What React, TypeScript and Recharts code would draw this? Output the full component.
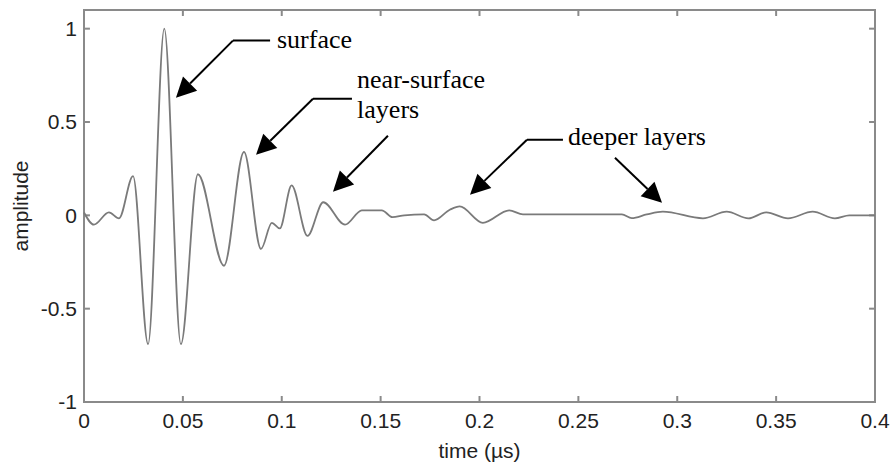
import React from 'react';
import { LineChart, Line, XAxis, YAxis, ReferenceLine, ReferenceDot, ReferenceArea } from 'recharts';

// echo trace: time (µs) vs normalised amplitude
const times = [
  0, 0.005, 0.0126, 0.0177, 0.0248, 0.0324, 0.0406, 0.049, 0.0576, 0.0708,
  0.0809, 0.0895, 0.095, 0.099, 0.105, 0.113, 0.121, 0.132, 0.1405, 0.1506,
  0.156, 0.162, 0.172, 0.177, 0.185, 0.19, 0.2017, 0.215, 0.222, 0.272,
  0.277, 0.2846, 0.2927, 0.313, 0.325, 0.336, 0.345, 0.356, 0.3685, 0.3797,
  0.387, 0.4,
];
const amplitudes = [
  0.015, -0.05, 0.016, -0.016, 0.21, -0.69, 1.0, -0.69, 0.22, -0.27,
  0.34, -0.18, -0.04, -0.07, 0.16, -0.11, 0.07, -0.05, 0.027, 0.027,
  -0.01, 0, 0.005, -0.027, 0.03, 0.048, -0.04, 0.027, 0.005, 0.005,
  -0.015, 0.005, 0.02, -0.016, 0.02, -0.016, 0.016, -0.016, 0.02, -0.016,
  0, 0,
];

const xTicks = [0, 0.05, 0.1, 0.15, 0.2, 0.25, 0.3, 0.35, 0.4];
const yTicks = [-1, -0.5, 0, 0.5, 1];
const xDomain: [number, number] = [0, 0.4];
const yDomain: [number, number] = [-1, 1.1];

// annotation arrows, in data units; the last point is the arrow tip
const arrowPaths: [number, number][][] = [
  [[0.0941, 0.936], [0.0753, 0.936], [0.0465, 0.63]],
  [[0.1355, 0.625], [0.1158, 0.625], [0.087, 0.324]],
  [[0.1537, 0.426], [0.1259, 0.126]],
  [[0.2422, 0.405], [0.224, 0.405], [0.1952, 0.11]],
  [[0.2685, 0.308], [0.2923, 0.067]],
];

const notes = [
  { t: 0.0976, a: 0.898, lines: ['surface'] },
  { t: 0.1381, a: 0.684, lines: ['near-surface', 'layers'] },
  { t: 0.2448, a: 0.378, lines: ['deeper layers'] },
];

const data = times.map((t, i) => ({ t, amp: amplitudes[i] }));

const frame = '#8a8a8a';
const sans = '"Liberation Sans", Arial, sans-serif';
const serif = '"Liberation Serif", "Times New Roman", serif';

// inward tick length in data units (about 6px each way)
const tickDx = 0.003;
const tickDy = 0.032;

const tickSegments = [
  ...xTicks.flatMap((t) => [
    [{ x: t, y: yDomain[0] }, { x: t, y: yDomain[0] + tickDy }],
    [{ x: t, y: yDomain[1] }, { x: t, y: yDomain[1] - tickDy }],
  ]),
  ...yTicks.flatMap((a) => [
    [{ x: xDomain[0], y: a }, { x: xDomain[0] + tickDx, y: a }],
    [{ x: xDomain[1], y: a }, { x: xDomain[1] - tickDx, y: a }],
  ]),
];

const segment = (withHead: boolean) => (p: any) => {
  const { x1, y1, x2, y2 } = p;
  if (!withHead) {
    return <line x1={x1} y1={y1} x2={x2} y2={y2} stroke="#000" strokeWidth={2} />;
  }
  const dx = x2 - x1;
  const dy = y2 - y1;
  const len = Math.hypot(dx, dy) || 1;
  const ux = dx / len;
  const uy = dy / len;
  const hl = 20;
  const hw = 10;
  const bx = x2 - ux * hl;
  const by = y2 - uy * hl;
  const pts = `${x2},${y2} ${bx - uy * hw},${by + ux * hw} ${bx + uy * hw},${by - ux * hw}`;
  return (
    <g>
      <line x1={x1} y1={y1} x2={bx} y2={by} stroke="#000" strokeWidth={2} />
      <polygon points={pts} fill="#000" />
    </g>
  );
};

export default function App() {
  return (
    <div style={{ position: 'absolute', left: 0, top: 0, background: '#fff' }}>
      <LineChart width={894} height={466} data={data} margin={{ top: 10, right: 19, bottom: 0, left: 0 }}>
        <XAxis
          dataKey="t"
          type="number"
          domain={xDomain}
          ticks={xTicks}
          height={64}
          axisLine={false}
          tickLine={false}
          tickSize={0}
          tickMargin={11}
          tick={{ fontSize: 21, fill: '#222', fontFamily: sans }}
          label={{
            content: (p: any) => {
              const { x, y, width, height } = p.viewBox;
              return (
                <text x={x + width / 2} y={y + height - 8} textAnchor="middle" fontSize={21} fill="#222" fontFamily={sans}>
                  time (µs)
                </text>
              );
            },
          }}
        />
        <YAxis
          type="number"
          domain={yDomain}
          ticks={yTicks}
          width={84}
          axisLine={false}
          tickLine={false}
          tickSize={0}
          tickMargin={7}
          tick={{ fontSize: 21, fill: '#222', fontFamily: sans }}
          label={{
            content: (p: any) => {
              const { y, height } = p.viewBox;
              const cy = y + height / 2;
              return (
                <text x={20} y={cy} transform={`rotate(-90, 20, ${cy})`} textAnchor="middle" dominantBaseline="central" fontSize={21} fill="#222" fontFamily={sans}>
                  amplitude
                </text>
              );
            },
          }}
        />
        <ReferenceArea
          x1={xDomain[0]}
          x2={xDomain[1]}
          y1={yDomain[0]}
          y2={yDomain[1]}
          fill="none"
          fillOpacity={0}
          stroke={frame}
          strokeWidth={2}
          ifOverflow="visible"
        />
        {tickSegments.map((seg, k) => (
          <ReferenceLine key={`t${k}`} segment={seg} stroke={frame} strokeWidth={2} ifOverflow="visible" />
        ))}
        <Line
          type="monotone"
          dataKey="amp"
          stroke="#7a7a7a"
          strokeWidth={1.8}
          dot={false}
          isAnimationActive={false}
        />
        {arrowPaths.flatMap((path, k) =>
          path.slice(1).map((pt, i) => (
            <ReferenceLine
              key={`a${k}-${i}`}
              segment={[
                { x: path[i][0], y: path[i][1] },
                { x: pt[0], y: pt[1] },
              ]}
              shape={segment(i === path.length - 2)}
            />
          ))
        )}
        {notes.map((n, k) => (
          <ReferenceDot
            key={`n${k}`}
            x={n.t}
            y={n.a}
            r={0}
            shape={(p: any) => (
              <text x={p.cx} y={p.cy} fontSize={26} fill="#000" fontFamily={serif}>
                {n.lines.map((s, i) => (
                  <tspan key={i} x={p.cx} dy={i === 0 ? 0 : 30}>
                    {s}
                  </tspan>
                ))}
              </text>
            )}
          />
        ))}
      </LineChart>
    </div>
  );
}
